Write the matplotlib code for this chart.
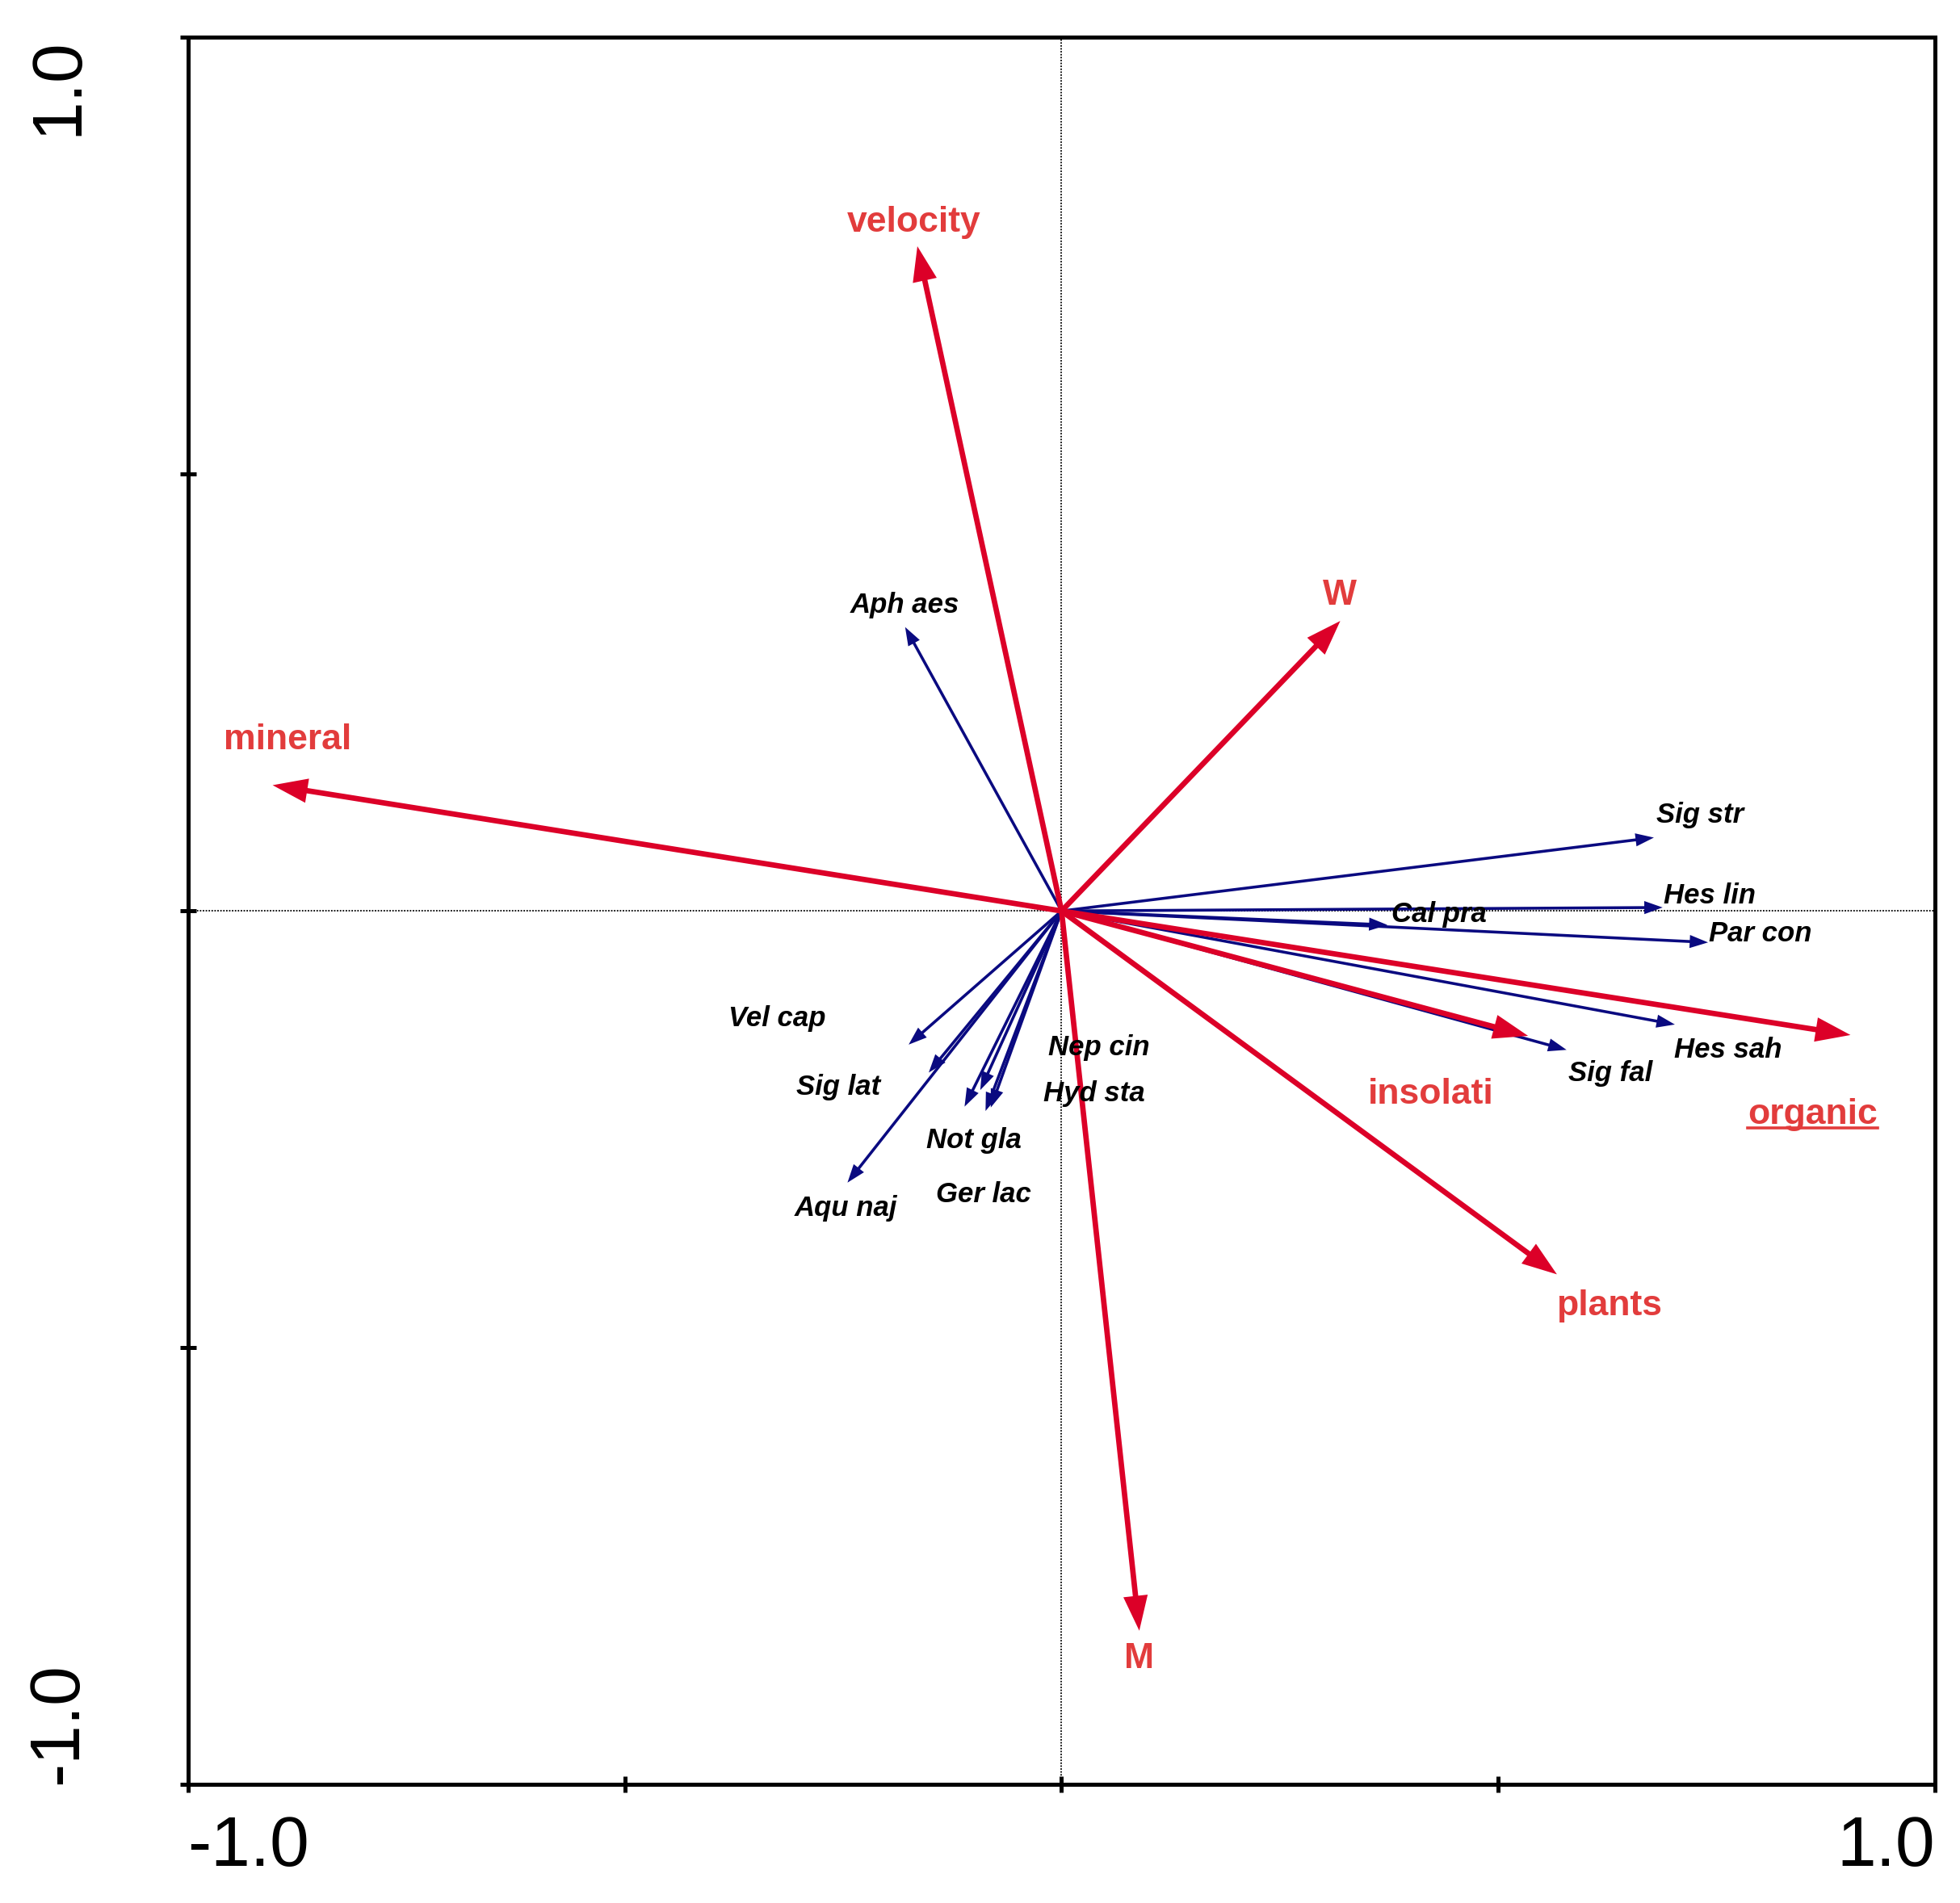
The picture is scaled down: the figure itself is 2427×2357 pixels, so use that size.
import matplotlib
matplotlib.use("Agg")
import matplotlib.pyplot as plt
from matplotlib.lines import Line2D

# environmental variables (red arrows)
env_names = ["velocity", "W", "mineral", "organic", "insolati", "plants", "M"]
env_x = [-0.165, 0.319, -0.903, 0.903, 0.534, 0.567, 0.089]
env_y = [0.761, 0.332, 0.144, -0.142, -0.143, -0.416, -0.824]
env_lab_x = [-0.169, 0.318, -0.886, 0.860, 0.423, 0.627, 0.089]
env_lab_y = [0.788, 0.361, 0.196, -0.233, -0.210, -0.452, -0.856]

# species (blue arrows)
spp_names = ["Aph aes", "Sig str", "Hes lin", "Cal pra", "Par con", "Hes sah",
             "Sig fal", "Vel cap", "Sig lat", "Aqu naj", "Not gla", "Ger lac",
             "Nep cin", "Hyd sta"]
spp_x = [-0.179, 0.678, 0.688, 0.373, 0.740, 0.702, 0.578, -0.175, -0.152,
         -0.245, -0.111, -0.087, -0.093, -0.081]
spp_y = [0.325, 0.084, 0.004, -0.016, -0.036, -0.130, -0.159, -0.153, -0.185,
         -0.311, -0.224, -0.229, -0.205, -0.225]
spp_lab_x = [-0.179, 0.731, 0.742, 0.432, 0.800, 0.763, 0.628, -0.326, -0.255,
             -0.247, -0.100, -0.089, 0.043, 0.037]
spp_lab_y = [0.350, 0.110, 0.017, -0.004, -0.026, -0.159, -0.186, -0.123,
             -0.202, -0.340, -0.263, -0.325, -0.156, -0.209]

tick_pos = [-1.0, -0.5, 0.0, 0.5, 1.0]
tick_lab = ["-1.0", "", "", "", "1.0"]

RED = "#DC0028"
RED_TXT = "#E23C3C"
BLUE = "#0A0A80"
FONT = ["Liberation Sans", "DejaVu Sans"]

fig = plt.figure(figsize=(24.27, 23.57), dpi=100)
ax = fig.add_axes([0.0956, 0.0623, 0.892, 0.918])
ax.set_xlim(-1, 1)
ax.set_ylim(-1, 1)
ax.set_aspect("equal")

ax.axhline(0, color="black", lw=1.3, ls=(0, (1, 1)), zorder=1)
ax.axvline(0, color="black", lw=1.3, ls=(0, (1, 1)), zorder=1)

for x, y in zip(spp_x, spp_y):
    ax.arrow(0, 0, x, y, width=0.0033, head_width=0.015, head_length=0.021,
             length_includes_head=True, color=BLUE, lw=0, zorder=2)
for x, y in zip(env_x, env_y):
    ax.arrow(0, 0, x, y, width=0.0062, head_width=0.028, head_length=0.040,
             length_includes_head=True, color=RED, lw=0, zorder=3)

for name, x, y in zip(spp_names, spp_lab_x, spp_lab_y):
    ax.text(x, y, name, ha="center", va="center", fontsize=25, family=FONT,
            fontweight="bold", fontstyle="italic", color="black", zorder=4)

env_texts = []
for name, x, y in zip(env_names, env_lab_x, env_lab_y):
    t = ax.text(x, y, name, ha="center", va="center", fontsize=32,
                family=FONT, fontweight="bold", color=RED_TXT, zorder=4)
    env_texts.append(t)

for s in ax.spines.values():
    s.set_linewidth(3.6)

ax.set_xticks(tick_pos)
ax.set_xticklabels(tick_lab)
ax.set_yticks(tick_pos)
ax.set_yticklabels(tick_lab, rotation=90)
ax.tick_params(direction="inout", length=14, width=3.6, labelsize=63, color="black")
ax.tick_params(axis="x", pad=20)
ax.tick_params(axis="y", pad=108)
xl = ax.get_xticklabels()
for lab in xl:
    lab.set_family(FONT)
xl[0].set_ha("left")
xl[-1].set_ha("right")
yl = ax.get_yticklabels()
for lab in yl:
    lab.set_family(FONT)
    lab.set_ha("center")
yl[0].set_va("bottom")
yl[-1].set_va("top")

# underline "organic"
fig.canvas.draw()
bb = env_texts[env_names.index("organic")].get_window_extent()
fig.add_artist(Line2D([bb.x0, bb.x1], [bb.y0 + 4, bb.y0 + 4], color=RED_TXT,
                      lw=2.6, transform=None))

fig.savefig("out.png", dpi=100)
